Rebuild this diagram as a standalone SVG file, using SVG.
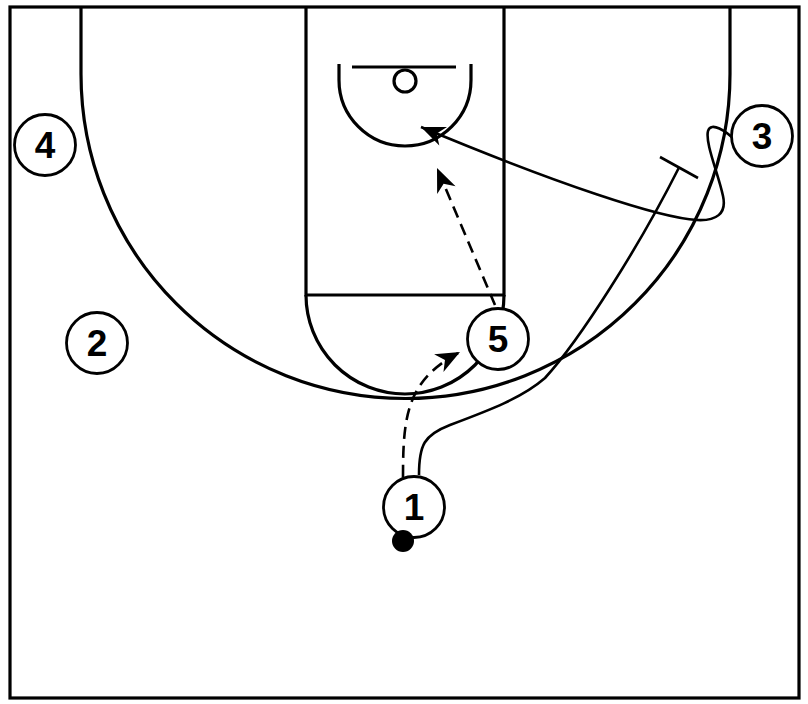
<svg xmlns="http://www.w3.org/2000/svg" width="808" height="704" viewBox="0 0 808 704">
<style>
.court{fill:none;stroke:#000;stroke-width:3.2}
.pl circle{fill:#fff;stroke:#000;stroke-width:2.8}
.pl text{font-family:"Liberation Sans",Arial,sans-serif;font-weight:bold;font-size:37px;text-anchor:middle;fill:#000}
.mv{fill:none;stroke:#000;stroke-width:2.6}
.dash{stroke-dasharray:12,7}
</style>
<defs>
<marker id="ah" markerUnits="userSpaceOnUse" markerWidth="30" markerHeight="30" refX="0" refY="0" viewBox="-26 -13 30 26" orient="auto">
<path d="M0,0 L-24,-10 L-17,0 L-24,10 Z" fill="#000"/>
</marker>
</defs>
<rect width="808" height="704" fill="#fff"/>
<g id="court">
<rect class="court" x="10" y="7" width="789" height="691" stroke-width="4"/>
<path class="court" d="M81,7 L81,74 A324.5,324.5 0 0 0 730,74 L730,7"/>
<path class="court" d="M306,7 L306,295 L504,295 L504,7"/>
<path class="court" d="M306,295 A99,99 0 0 0 504,295"/>
<line class="court" x1="352" y1="67" x2="456" y2="67"/>
<circle class="court" cx="405" cy="81" r="11"/>
<path class="court" d="M339,64 L339,80 A66,66 0 0 0 471,80 L471,64"/>
</g>
<g id="connectors">
<path class="mv dash" d="M403,477 C403,415 407,380 460,352" marker-end="url(#ah)"/>
<path class="mv" d="M419,475 C419,445 424,435 450,425 C490,410 522,398 545,378 C580,340 640,245 679,167.5"/>
<line class="mv" x1="660" y1="157" x2="698" y2="178"/>
<path class="mv" d="M736,141 C726,131 711,121 708,131 C705,143 718,173 723,196 C727,214 716,221 697,220 C660,218 560,185 421,127" marker-end="url(#ah)"/>
<path class="mv dash" d="M495,305 L437,168" marker-end="url(#ah)"/>
</g>
<g id="p4" class="pl"><circle cx="45" cy="145" r="30.5"/><text x="45" y="158">4</text></g>
<g id="p2" class="pl"><circle cx="97" cy="343" r="30.5"/><text x="97" y="356">2</text></g>
<g id="p3" class="pl"><circle cx="762" cy="136" r="30.5"/><text x="762" y="149">3</text></g>
<g id="p5" class="pl"><circle cx="498" cy="339" r="30.5"/><text x="498" y="352">5</text></g>
<g id="p1" class="pl"><circle cx="414" cy="507" r="30.5"/><text x="414" y="520">1</text></g>
<circle id="ball" cx="403" cy="541" r="11" fill="#000"/>
</svg>
